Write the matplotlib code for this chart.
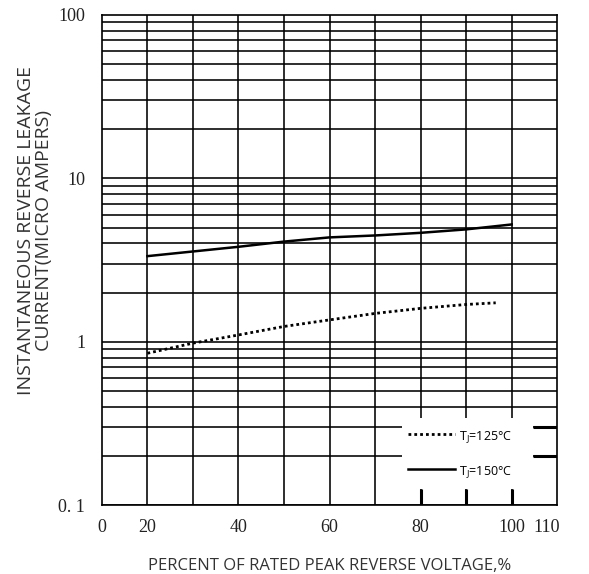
import numpy as np
import matplotlib
matplotlib.use('Agg')
import matplotlib.pyplot as plt
from matplotlib.patches import Rectangle

# data (percent of rated voltage -> leakage current, uA)
x_125 = [20, 30, 40, 50, 60, 70, 80, 90, 96.5]
y_125 = [0.85, 0.98, 1.10, 1.24, 1.36, 1.49, 1.60, 1.69, 1.73]
x_150 = [20, 40, 50, 60, 70, 80, 90, 100]
y_150 = [3.34, 3.81, 4.10, 4.35, 4.47, 4.64, 4.87, 5.22]

x_tick_pos = [10, 20, 40, 60, 80, 100, 107.6]
x_tick_lbl = ['0', '20', '40', '60', '80', '100', '110']
y_tick_pos = [0.1, 1, 10, 100]
y_tick_lbl = ['0. 1', '1', '10', '100']
x_grid = [20, 30, 40, 50, 60, 70, 80, 90, 100]
y_grid = [k * 10.0 ** n for n in (-1, 0, 1) for k in range(1, 10)]

fig = plt.figure(figsize=(5.89, 5.74), dpi=100)
ax = fig.add_axes([0.173, 0.120, 0.773, 0.854])
ax.set_yscale('log')
ax.set_xlim(10, 110)
ax.set_ylim(0.1, 100)

for v in x_grid:
    ax.axvline(v, color='black', lw=1.15, zorder=1)
for v in y_grid:
    ax.axhline(v, color='black', lw=1.15, zorder=1)

# white legend box covering the grid, with thick stubs around it
ax.add_patch(Rectangle((75.9, 0.125), 28.8, 0.342 - 0.125, facecolor='white',
                       edgecolor='none', zorder=2))
for v in [0.2, 0.3]:
    ax.plot([104.7, 110], [v, v], color='black', lw=2.2, solid_capstyle='butt', zorder=3)
for v in [80, 90, 100]:
    ax.plot([v, v], [0.1, 0.125], color='black', lw=2.2, solid_capstyle='butt', zorder=3)

ax.plot(x_125, y_125, color='black', lw=2.0, linestyle=(0, (1, 1.1)), zorder=4,
        label='T$_\\mathregular{J}$=125°C')
ax.plot(x_150, y_150, color='black', lw=1.8, zorder=4,
        label='T$_\\mathregular{J}$=150°C')

ax.legend(loc='upper left', bbox_to_anchor=(0.672, 0.156), frameon=False,
          borderaxespad=0, borderpad=0, handlelength=3.8, handletextpad=0.3,
          labelspacing=1.6, prop={'family': 'Open Sans', 'size': 9})

for s in ax.spines.values():
    s.set_linewidth(1.2)
    s.set_zorder(5)

ax.minorticks_off()
ax.set_xticks(x_tick_pos)
ax.set_xticklabels(x_tick_lbl, fontfamily='Liberation Serif', fontsize=13, color='#222222')
ax.set_yticks(y_tick_pos)
ax.set_yticklabels(y_tick_lbl, fontfamily='Liberation Serif', fontsize=13, color='#222222')
ax.tick_params(length=0, pad=10)
ax.tick_params(axis='y', pad=12)

ax.set_xlabel('PERCENT OF RATED PEAK REVERSE VOLTAGE,%', fontfamily='Open Sans',
              fontsize=12, color='#333333', labelpad=16)
ax.set_ylabel('INSTANTANEOUS REVERSE LEAKAGE\nCURRENT(MICRO AMPERS)', fontfamily='Open Sans',
              fontsize=14, color='#333333', linespacing=1.0)
ax.yaxis.set_label_coords(-0.108, 0.561)

fig.savefig('out.png', dpi=100)
